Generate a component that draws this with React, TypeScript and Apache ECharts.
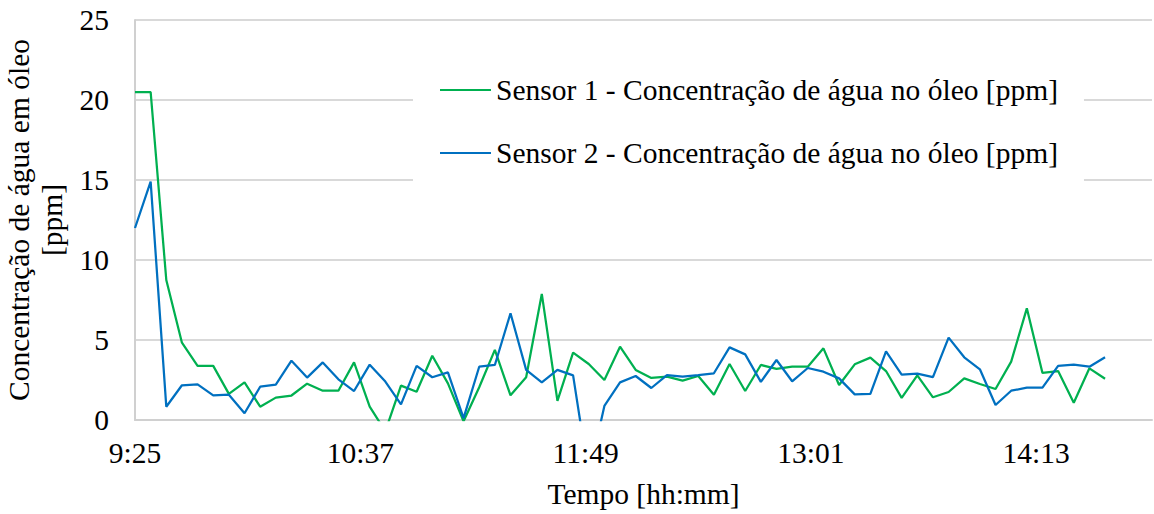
import React, { useEffect, useRef } from "react";
import * as echarts from "echarts";

const times = [
  "9:25", "9:30", "9:35", "9:40", "9:45", "9:50", "9:55",
  "10:00", "10:05", "10:10", "10:15", "10:20", "10:25", "10:30", "10:35", "10:40", "10:45", "10:50", "10:55",
  "11:00", "11:05", "11:10", "11:15", "11:20", "11:25", "11:30", "11:35", "11:40", "11:45", "11:50", "11:55",
  "12:00", "12:05", "12:10", "12:15", "12:20", "12:25", "12:30", "12:35", "12:40", "12:45", "12:50", "12:55",
  "13:00", "13:05", "13:10", "13:15", "13:20", "13:25", "13:30", "13:35", "13:40", "13:45", "13:50", "13:55",
  "14:00", "14:05", "14:10", "14:15", "14:20", "14:25", "14:30", "14:35",
];

const sensor1 = [
  20.5, 20.5, 8.75, 4.83, 3.38, 3.38, 1.63, 2.35, 0.83, 1.4,
  1.53, 2.27, 1.83, 1.83, 3.6, 0.83, -0.7, 2.15, 1.77, 4.02,
  2.29, -0.08, 2.05, 4.38, 1.54, 2.67, 7.88, 1.19, 4.21, 3.5,
  2.5, 4.58, 3.13, 2.63, 2.71, 2.46, 2.75, 1.58, 3.5, 1.81,
  3.44, 3.2, 3.33, 3.33, 4.48, 2.19, 3.48, 3.9, 3.06, 1.38,
  2.79, 1.42, 1.75, 2.6, 2.25, 1.94, 3.65, 6.98, 2.94, 3.06,
  1.08, 3.23, 2.58,
];

const sensor2 = [
  12.0, 14.9, 0.83, 2.17, 2.23, 1.54, 1.58, 0.42, 2.08, 2.21,
  3.71, 2.65, 3.6, 2.54, 1.81, 3.46, 2.4, 0.98, 3.38, 2.67,
  2.98, 0.12, 3.33, 3.44, 6.67, 3.13, 2.35, 3.13, 2.79, -3.5,
  0.88, 2.35, 2.75, 2.0, 2.81, 2.71, 2.81, 2.92, 4.54, 4.1,
  2.38, 3.75, 2.42, 3.25, 3.02, 2.6, 1.6, 1.63, 4.29, 2.83,
  2.9, 2.68, 5.15, 3.92, 3.17, 0.94, 1.83, 2.02, 2.02, 3.38,
  3.46, 3.33, 3.92,
];

const seriesNames = [
  "Sensor 1 - Concentração de água no óleo [ppm]",
  "Sensor 2 - Concentração de água no óleo [ppm]",
];
const axisStart = "9:25";
const axisEnd = "14:50";
const xStepMinutes = 72;
const yTicks = [0, 5, 10, 15, 20, 25];

const toMin = (t: string) => {
  const [h, m] = t.split(":").map(Number);
  return h * 60 + m;
};
const fmt = (mins: number) => {
  const h = Math.floor(mins / 60);
  const m = Math.round(mins % 60);
  return `${h}:${m < 10 ? "0" + m : m}`;
};

const FONT = "Liberation Serif";
const FS = 29.5;

export default function App() {
  const ref = useRef<HTMLDivElement>(null);
  useEffect(() => {
    if (!ref.current) return;
    const chart = echarts.init(ref.current, undefined, { renderer: "svg" });
    const base = toMin(axisStart);
    const xs = times.map((t) => toMin(t) - base);
    const s1 = xs.map((x, i) => [x, sensor1[i]]);
    const s2 = xs.map((x, i) => [x, sensor2[i]]);
    chart.setOption({
      animation: false,
      backgroundColor: "#ffffff",
      textStyle: { fontFamily: FONT },
      grid: {
        left: 135,
        top: 20,
        right: 2,
        bottom: 94,
        containLabel: false,
        outerBoundsMode: "none",
      },
      legend: {
        orient: "vertical",
        left: 413,
        top: 55,
        padding: [20, 26, 20, 27],
        backgroundColor: "#ffffff",
        icon: "rect",
        itemWidth: 51,
        itemHeight: 2,
        itemGap: 33,
        textStyle: { fontFamily: FONT, fontSize: FS, color: "#000", lineHeight: 28 },
        data: seriesNames,
      },
      xAxis: {
        type: "value",
        min: 0,
        max: toMin(axisEnd) - base,
        interval: xStepMinutes,
        name: "Tempo [hh:mm]",
        nameLocation: "middle",
        nameGap: 59,
        nameTextStyle: { fontFamily: FONT, fontSize: FS, color: "#000" },
        axisLine: { show: true, lineStyle: { color: "#d0d0d0", width: 2 } },
        axisTick: { show: false },
        splitLine: { show: false },
        axisLabel: {
          fontFamily: FONT,
          fontSize: FS,
          color: "#000",
          margin: 18,
          showMaxLabel: false,
          formatter: (v: number) => fmt(v + base),
        },
      },
      yAxis: {
        type: "value",
        min: yTicks[0],
        max: yTicks[yTicks.length - 1],
        interval: yTicks[1] - yTicks[0],
        name: "Concentração de água em óleo\n[ppm]",
        nameLocation: "middle",
        nameRotate: 90,
        nameGap: 57,
        nameTextStyle: { fontFamily: FONT, fontSize: FS, color: "#000", lineHeight: 33 },
        axisLine: { show: true, lineStyle: { color: "#d0d0d0", width: 2 } },
        axisTick: { show: false },
        splitLine: { show: true, lineStyle: { color: "#d9d9d9", width: 2 } },
        axisLabel: { fontFamily: FONT, fontSize: FS, color: "#000", margin: 26 },
      },
      series: [
        {
          name: seriesNames[0],
          type: "line",
          data: s1,
          symbol: "none",
          clip: true,
          lineStyle: { color: "#00B050", width: 2.25 },
          itemStyle: { color: "#00B050" },
          z: 2,
        },
        {
          name: seriesNames[1],
          type: "line",
          data: s2,
          symbol: "none",
          clip: true,
          lineStyle: { color: "#0070C0", width: 2.25 },
          itemStyle: { color: "#0070C0" },
          z: 3,
        },
      ],
    });
    return () => chart.dispose();
  }, []);
  return (
    <div
      ref={ref}
      style={{ position: "absolute", left: 0, top: 0, width: 1154, height: 514 }}
    />
  );
}
